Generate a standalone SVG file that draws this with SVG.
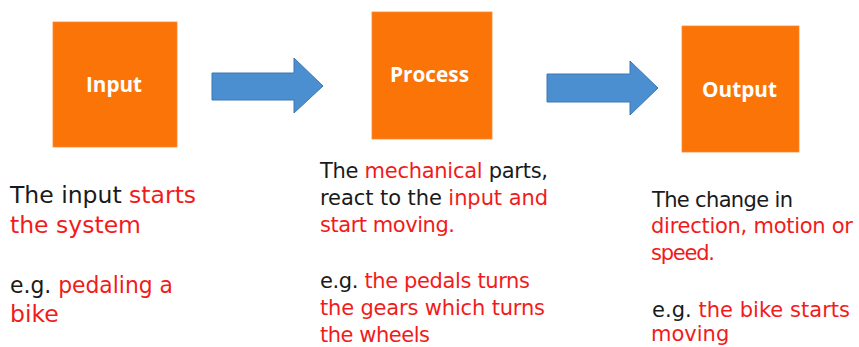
<svg xmlns="http://www.w3.org/2000/svg" width="859" height="347" viewBox="0 0 859 347">
<style>
.box{fill:#FB7408;stroke:#FB8A33;stroke-width:0.8}
.lbl{font-family:"Open Sans","DejaVu Sans",sans-serif;font-weight:bold;font-size:21px;fill:#ffffff}
.arr{fill:#4B8FD0;stroke:#3D78B5;stroke-width:1}
.t{font-family:"DejaVu Sans","Liberation Sans",sans-serif;font-size:21px;fill:#1a1a1a}
.big{font-size:23.5px}
.r{fill:#F21B1B}
</style>
<rect width="859" height="347" fill="#ffffff"/>
<g id="input">
<rect class="box" x="53" y="22" width="124" height="125"/>
<text class="lbl" x="86" y="92" textLength="56" lengthAdjust="spacingAndGlyphs">Input</text>
</g>
<g id="process">
<rect class="box" x="372" y="12" width="120" height="127"/>
<text class="lbl" x="390" y="82" textLength="79" lengthAdjust="spacingAndGlyphs">Process</text>
</g>
<g id="output">
<rect class="box" x="682" y="26" width="117" height="126"/>
<text class="lbl" x="702" y="97" textLength="75" lengthAdjust="spacingAndGlyphs">Output</text>
</g>
<g id="connectors">
<polygon class="arr" points="212,73 294,73 294,58 323,86 294,113 294,100 212,100"/>
<polygon class="arr" points="547,74 630,74 630,61 658,88 630,115 630,102 547,102"/>
</g>
<g id="input-text">
<text class="t big" x="10" y="203">The input <tspan class="r">starts</tspan></text>
<text class="t big r" x="10" y="233">the system</text>
<text class="t big" x="10" y="293" textLength="163" lengthAdjust="spacingAndGlyphs">e.g. <tspan class="r">pedaling a</tspan></text>
<text class="t big r" x="10" y="322">bike</text>
</g>
<g id="process-text">
<text class="t" x="320" y="178" textLength="228">The <tspan class="r">mechanical</tspan> parts,</text>
<text class="t" x="320" y="205" textLength="228">react to the <tspan class="r">input and</tspan></text>
<text class="t r" x="320" y="232" textLength="135">start moving.</text>
<text class="t" x="320" y="288" textLength="210">e.g. <tspan class="r">the pedals turns</tspan></text>
<text class="t r" x="320" y="315" textLength="225">the gears which turns</text>
<text class="t r" x="320" y="342" textLength="110">the wheels</text>
</g>
<g id="output-text">
<text class="t" x="652" y="207" textLength="141">The change in</text>
<text class="t r" x="651" y="233" textLength="202">direction, motion or</text>
<text class="t r" x="651" y="260" textLength="64">speed.</text>
<text class="t" x="652" y="317" textLength="198">e.g. <tspan class="r">the bike starts</tspan></text>
<text class="t r" x="651" y="341">moving</text>
</g>
</svg>
